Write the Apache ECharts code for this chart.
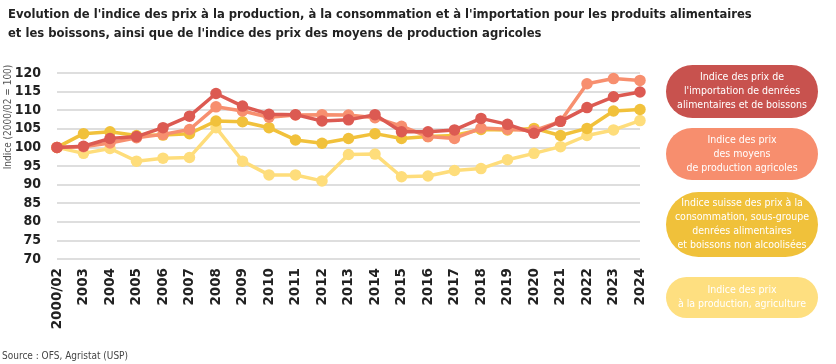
<!DOCTYPE html>
<html><head><meta charset="utf-8">
<script src="https://cdn.jsdelivr.net/npm/echarts@6/dist/echarts.min.js"></script>
<style>html,body{margin:0;padding:0;background:#fff;}#c{width:836px;height:364px;}</style>
</head><body><div id="c"></div>
<script>
const categories = ['2000/02','2003','2004','2005','2006','2007','2008','2009','2010','2011','2012','2013','2014','2015','2016','2017','2018','2019','2020','2021','2022','2023','2024'];
const importIdx = [100,100.3,102.4,102.9,105.3,108.4,114.5,111.1,108.9,108.8,107.1,107.4,108.8,104.2,104.2,104.7,107.8,106.2,103.8,107.0,110.7,113.6,114.9];
const moyensIdx = [100,100.2,101.2,102.6,103.5,104.8,110.9,109.8,108.1,108.7,108.8,108.7,108.0,105.7,102.9,102.4,105.2,104.9,104.5,107.0,117.1,118.5,118.0];
const consoIdx = [100,103.7,104.2,103.2,103.3,103.7,107.1,106.9,105.3,102.0,101.1,102.4,103.7,102.4,102.9,103.2,104.8,104.7,105.1,103.2,105.1,109.8,110.2];
const prodIdx = [100,98.4,99.7,96.3,97.1,97.3,105.3,96.3,92.6,92.6,91.0,98.1,98.2,92.1,92.3,93.8,94.3,96.7,98.4,100.2,103.2,104.7,107.2];
const seriesNames = ["Indice des prix de\nl'importation de denrées\nalimentaires et de boissons","Indice des prix\ndes moyens\nde production agricoles","Indice suisse des prix à la\nconsommation, sous-groupe\ndenrées alimentaires\net boissons non alcoolisées","Indice des prix\nà la production, agriculture"];
const yTicks = {min:70,max:120,interval:5};

const FONT = "'DejaVu Sans Condensed',sans-serif";
const colors = ['#dc5a52','#f78f6f','#f1c13b','#fedd7b'];
const boxColors = ['#c8524e','#f78e6e','#f0c13a','#fedf80'];
const chart = echarts.init(document.getElementById('c'));
function mk(name,data,color,z){
  return {name:name,type:'line',data:data,z:z,symbol:'circle',symbolSize:11.5,
    lineStyle:{color:color,width:3.5},itemStyle:{color:color},emphasis:{disabled:true},animation:false};
}
const boxes = [
  {y:65,h:53},{y:128,h:52},{y:192,h:65},{y:277,h:41}
];
const graphics = [];
boxes.forEach((b,i)=>{
  graphics.push({type:'rect',left:666,top:b.y,shape:{width:152,height:b.h,r:b.h/2},style:{fill:boxColors[i]}});
  graphics.push({type:'text',x:742,y:b.y+b.h/2,style:{text:seriesNames[i],fill:'#fff',font:"10.5px "+FONT,align:'center',verticalAlign:'middle',lineHeight:14}});
});
graphics.push({type:'text',x:8,y:117,rotation:Math.PI/2,style:{text:'Indice (2000/02 = 100)',fill:'#555',font:'10px '+FONT,align:'center',verticalAlign:'middle'}});
graphics.push({type:'text',x:2,y:356,style:{text:'Source : OFS, Agristat (USP)',fill:'#444',font:'10px '+FONT,verticalAlign:'middle'}});

chart.setOption({
  animation:false,
  title:{text:"Evolution de l'indice des prix à la production, à la consommation et à l'importation pour les produits alimentaires\net les boissons, ainsi que de l'indice des prix des moyens de production agricoles",
    left:3,top:0,textStyle:{fontFamily:FONT,fontWeight:'bold',fontSize:12.9,color:'#222',lineHeight:19}},
  grid:{left:57,right:196,top:73,bottom:105},
  xAxis:{type:'category',data:categories,boundaryGap:false,
    axisLine:{show:false},axisTick:{show:false},
    axisLabel:{rotate:90,margin:9,fontFamily:"'DejaVu Sans',sans-serif",fontWeight:'bold',fontSize:13.5,color:'#222',interval:0}},
  yAxis:{type:'value',min:yTicks.min,max:yTicks.max,interval:yTicks.interval,
    axisLine:{show:false},axisTick:{show:false},
    splitLine:{lineStyle:{color:'#d3d3d3',width:1.5}},
    axisLabel:{margin:16,fontFamily:FONT,fontWeight:'bold',fontSize:14,color:'#222'}},
  series:[
    mk(seriesNames[3],prodIdx,colors[3],1),
    mk(seriesNames[2],consoIdx,colors[2],2),
    mk(seriesNames[1],moyensIdx,colors[1],3),
    mk(seriesNames[0],importIdx,colors[0],4)
  ],
  graphic:graphics
});
</script></body></html>
